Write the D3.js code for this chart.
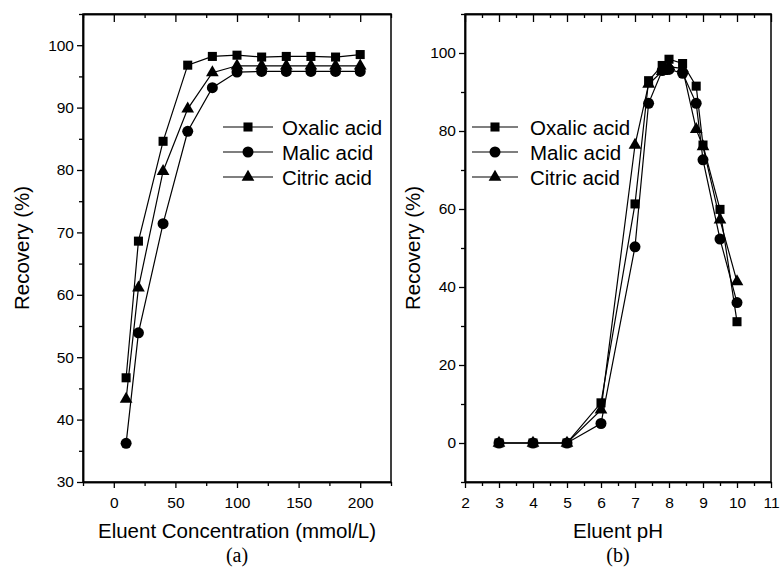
<!DOCTYPE html>
<html>
<head>
<meta charset="utf-8">
<script src="https://cdn.jsdelivr.net/npm/d3@7"></script>
<style>
    body { margin: 0; background: #fff; }
    svg { display: block; font-family: 'Liberation Sans', Arial, sans-serif; }
</style>
</head>
<body>
<div id="chart"></div>
<script>
// panel (a): recovery vs eluent concentration
const concentration = [10, 20, 40, 60, 80, 100, 120, 140, 160, 180, 200];
const oxalicConc = [46.7, 68.6, 84.6, 96.8, 98.2, 98.4, 98.1, 98.2, 98.2, 98.1, 98.5];
const malicConc = [36.2, 53.9, 71.4, 86.2, 93.2, 95.7, 95.8, 95.8, 95.8, 95.8, 95.8];
const citricConc = [43.3, 61.1, 79.8, 89.8, 95.6, 96.7, 96.7, 96.7, 96.7, 96.7, 96.7];

// panel (b): recovery vs eluent pH
const eluentPH = [3, 4, 5, 6, 7, 7.4, 7.8, 8, 8.4, 8.8, 9, 9.5, 10];
const oxalicPH = [0, 0, 0, 10.3, 61.3, 92.9, 96.8, 98.4, 97.3, 91.5, 76.4, 59.9, 31.1];
const malicPH = [0, 0, 0, 5.0, 50.3, 87.1, 95.5, 95.8, 94.8, 87.1, 72.6, 52.3, 36.0];
const citricPH = [0, 0, 0, 8.5, 76.4, 92.0, 95.3, 96.5, 96.0, 80.4, 76.0, 57.2, 41.4];

const seriesNames = ['Oxalic acid', 'Malic acid', 'Citric acid'];
const concTicks = [0, 50, 100, 150, 200];
const concMinor = [-25, 25, 75, 125, 175, 225];
const recoveryTicksA = [30, 40, 50, 60, 70, 80, 90, 100];
const recoveryMinorA = [35, 45, 55, 65, 75, 85, 95, 105];
const phTicks = [2, 3, 4, 5, 6, 7, 8, 9, 10, 11];
const phMinor = [2.5, 3.5, 4.5, 5.5, 6.5, 7.5, 8.5, 9.5, 10.5];
const recoveryTicksB = [0, 20, 40, 60, 80, 100];
const recoveryMinorB = [-10, 10, 30, 50, 70, 90, 110];

const WIDTH = 781;
const HEIGHT = 570;
const TOP = 14;
const BOTTOM = 482;
const TICK_FONT = 15.5;
const TITLE_FONT = 20.5;

const symbols = [d3.symbolSquare, d3.symbolCircle, d3.symbolTriangle];
const symbolSizes = [82, 95, 70];

const svg = d3.select('#chart')
    .append('svg')
        .attr('width', WIDTH)
        .attr('height', HEIGHT);

function drawPanel(p) {
    const x = d3.scaleLinear().domain(p.xDomain).range([p.left, p.right]);
    const y = d3.scaleLinear().domain(p.yDomain).range([BOTTOM, TOP]);

    const g = svg.append('g');

    // bottom axis, major + minor
    g.append('g')
        .attr('transform', 'translate(0,' + BOTTOM + ')')
        .call(d3.axisBottom(x).tickValues(p.xTicks).tickSize(6).tickPadding(9).tickSizeOuter(0))
        .call(a => a.selectAll('text').attr('font-size', TICK_FONT).attr('fill', '#000'));
    g.append('g')
        .attr('transform', 'translate(0,' + BOTTOM + ')')
        .call(d3.axisBottom(x).tickValues(p.xMinor).tickSize(4).tickFormat('').tickSizeOuter(0));

    // top axis, ticks pointing inside
    g.append('g')
        .attr('transform', 'translate(0,' + TOP + ')')
        .call(d3.axisBottom(x).tickValues(p.xTicks).tickSize(8).tickFormat('').tickSizeOuter(0));
    g.append('g')
        .attr('transform', 'translate(0,' + TOP + ')')
        .call(d3.axisBottom(x).tickValues(p.xMinor).tickSize(4).tickFormat('').tickSizeOuter(0));

    // left axis
    g.append('g')
        .attr('transform', 'translate(' + p.left + ',0)')
        .call(d3.axisLeft(y).tickValues(p.yTicks).tickSize(6).tickPadding(3).tickSizeOuter(0))
        .call(a => a.selectAll('text').attr('font-size', TICK_FONT).attr('fill', '#000'));
    g.append('g')
        .attr('transform', 'translate(' + p.left + ',0)')
        .call(d3.axisLeft(y).tickValues(p.yMinor).tickSize(4).tickFormat('').tickSizeOuter(0));

    g.selectAll('.domain').attr('stroke', '#000').attr('stroke-width', 1.5);
    g.selectAll('.tick line').attr('stroke', '#000').attr('stroke-width', 1.3);

    // frame
    g.append('rect')
        .attr('x', p.left)
        .attr('y', TOP)
        .attr('width', p.right - p.left)
        .attr('height', BOTTOM - TOP)
        .attr('fill', 'none')
        .attr('stroke', '#000')
        .attr('stroke-width', 1.5);

    // axis titles
    g.append('text')
        .text(p.xLabel)
        .attr('x', (p.left + p.right) / 2)
        .attr('y', 538)
        .attr('text-anchor', 'middle')
        .attr('font-size', TITLE_FONT);
    g.append('text')
        .text(p.caption)
        .attr('x', (p.left + p.right) / 2)
        .attr('y', 562)
        .attr('text-anchor', 'middle')
        .attr('font-family', "'Liberation Serif', 'Times New Roman', serif")
        .attr('font-size', 20);
    g.append('text')
        .text('Recovery (%)')
        .attr('transform', 'rotate(-90)')
        .attr('x', -(TOP + BOTTOM) / 2)
        .attr('y', p.yLabelX)
        .attr('text-anchor', 'middle')
        .attr('dominant-baseline', 'middle')
        .attr('font-size', TITLE_FONT);

    // series
    const line = d3.line()
        .x((d, i) => x(p.xs[i]))
        .y(d => y(d));

    p.series.forEach(function (values, s) {
        g.append('path')
            .datum(values)
            .attr('fill', 'none')
            .attr('stroke', '#000')
            .attr('stroke-width', 1.2)
            .attr('d', line);

        g.selectAll(null)
            .data(values)
            .join('path')
                .attr('transform', (d, i) => 'translate(' + x(p.xs[i]) + ',' + y(d) + ')')
                .attr('d', d3.symbol().type(symbols[s]).size(symbolSizes[s]))
                .attr('fill', '#000');
    });

    // legend
    seriesNames.forEach(function (name, s) {
        const ly = 127 + s * 25;
        g.append('line')
            .attr('x1', p.legend.x1)
            .attr('x2', p.legend.x2)
            .attr('y1', ly)
            .attr('y2', ly)
            .attr('stroke', '#000')
            .attr('stroke-width', 1.2);
        g.append('path')
            .attr('transform', 'translate(' + (p.legend.x1 + p.legend.x2) / 2 + ',' + ly + ')')
            .attr('d', d3.symbol().type(symbols[s]).size(symbolSizes[s]))
            .attr('fill', '#000');
        g.append('text')
            .text(name)
            .attr('x', p.legend.tx)
            .attr('y', ly)
            .attr('dominant-baseline', 'central')
            .attr('font-size', TITLE_FONT);
    });
}

drawPanel({
    left: 83, right: 391,
    xDomain: [-25, 225], yDomain: [30, 105],
    xTicks: concTicks, xMinor: concMinor,
    yTicks: recoveryTicksA, yMinor: recoveryMinorA,
    xs: concentration,
    series: [oxalicConc, malicConc, citricConc],
    xLabel: 'Eluent Concentration (mmol/L)',
    caption: '(a)',
    yLabelX: 24,
    legend: { x1: 223, x2: 273, tx: 282 },
});

drawPanel({
    left: 465, right: 771,
    xDomain: [2, 11], yDomain: [-10, 110],
    xTicks: phTicks, xMinor: phMinor,
    yTicks: recoveryTicksB, yMinor: recoveryMinorB,
    xs: eluentPH,
    series: [oxalicPH, malicPH, citricPH],
    xLabel: 'Eluent pH',
    caption: '(b)',
    yLabelX: 415,
    legend: { x1: 472, x2: 518, tx: 530 },
});
</script>
</body>
</html>
